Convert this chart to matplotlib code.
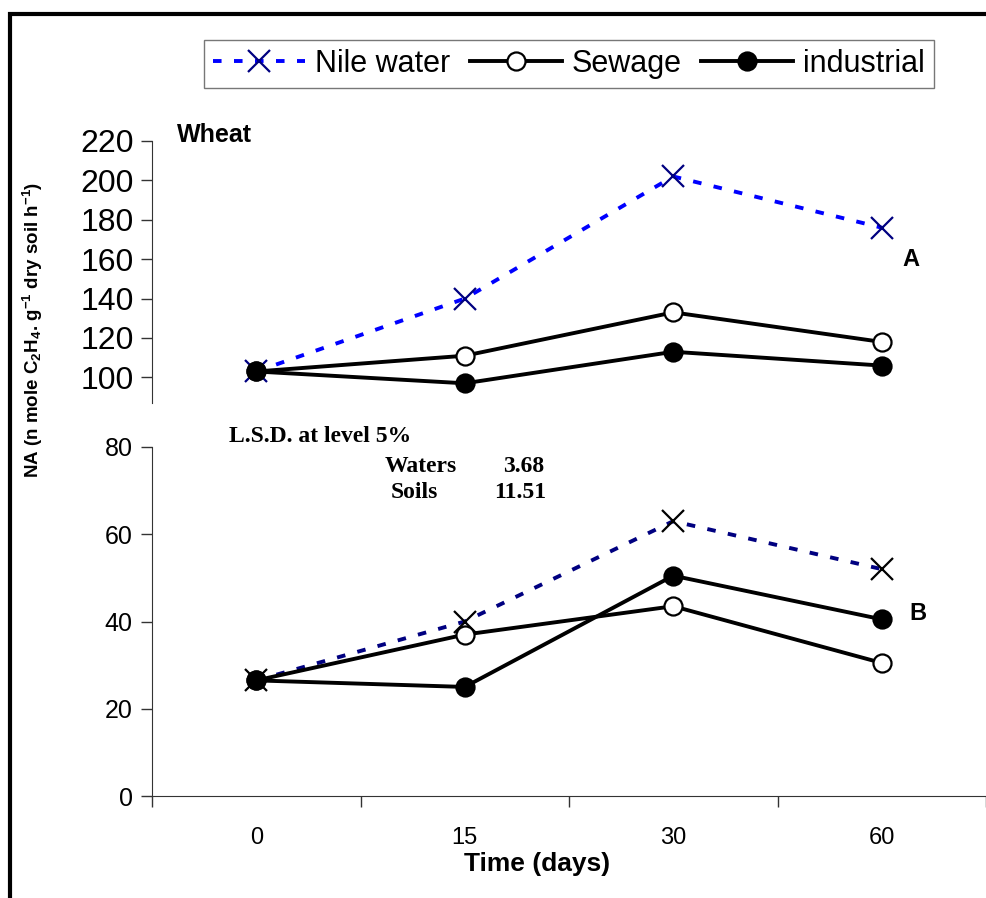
import matplotlib.pyplot as plt
import matplotlib.patches as patches
from matplotlib.lines import Line2D

plt.rcParams['font.family'] = ['Liberation Sans', 'DejaVu Sans']
plt.rcParams['mathtext.fontset'] = 'custom'
plt.rcParams['mathtext.rm'] = 'Liberation Sans:bold'
plt.rcParams['mathtext.it'] = 'Liberation Sans:bold'
plt.rcParams['mathtext.bf'] = 'Liberation Sans:bold'
plt.rcParams['mathtext.default'] = 'rm'

# Data
days = ['0', '15', '30', '60']
wheat_nile = [103, 140, 202, 176]
wheat_sewage = [103, 111, 133, 118]
wheat_industrial = [103, 97, 113, 106]

soil_nile = [26.5, 40, 63, 52]
soil_sewage = [26.5, 37, 43.5, 30.5]
soil_industrial = [26.5, 25, 50.5, 40.5]

W, H = 986, 898
fig = plt.figure(figsize=(W / 100, H / 100), dpi=100)

# outer frame
frame = patches.Rectangle((10 / W, -0.1), 1.2, (1 - 14 / H) + 0.1, transform=fig.transFigure,
                          fill=False, edgecolor='black', linewidth=3, zorder=0)
fig.patches.append(frame)

x = list(range(len(days)))
lw = 2.8
black_kw = dict(color='black', linewidth=lw, markersize=13, markeredgewidth=1.6,
                markeredgecolor='black')

# ---------------- upper panel (Wheat) ----------------
ax1 = fig.add_axes([152 / W, 1 - 403 / H, 1 - 152 / W, (403 - 141) / H])
ax1.plot(x, wheat_nile, linestyle=(0, (2.2, 3.2)), color='#0000FF', linewidth=lw,
         marker='x', markersize=16, markeredgewidth=1.6, markeredgecolor='#000080', zorder=2)
ax1.plot(x, wheat_sewage, marker='o', markerfacecolor='white', zorder=3, **black_kw)
ax1.plot(x, wheat_industrial, marker='o', markerfacecolor='black', zorder=3, **black_kw)
ax1.set_xlim(-0.5, 3.5)
ax1.set_ylim(87, 220)
ax1.set_yticks(range(100, 221, 20))
ax1.tick_params(axis='y', labelsize=23, length=8, direction='out', width=1, colors='#333333',
                labelcolor='black', pad=5)
ax1.set_xticks([])
for s in ['top', 'right', 'bottom']:
    ax1.spines[s].set_visible(False)
ax1.spines['left'].set_color('#333333')
ax1.patch.set_alpha(0)

# ---------------- lower panel ----------------
ax2 = fig.add_axes([152 / W, 1 - 796 / H, 1 - 152 / W, (796 - 447) / H])
xl = [0.5 + i for i in x]
ax2.plot(xl, soil_nile, linestyle=(0, (2.2, 3.2)), color='#000080', linewidth=lw,
         marker='x', markersize=16, markeredgewidth=1.6, markeredgecolor='black', zorder=2)
ax2.plot(xl, soil_sewage, marker='o', markerfacecolor='white', zorder=3, **black_kw)
ax2.plot(xl, soil_industrial, marker='o', markerfacecolor='black', zorder=3, **black_kw)
ax2.set_xlim(0, (986 - 152) / 210)
ax2.set_ylim(0, 80)
ax2.set_yticks(range(0, 81, 20))
ax2.set_xticks(xl)
ax2.set_xticklabels(days)
ax2.set_xticks([0, 1, 2, 3, 4], minor=True)
ax2.tick_params(axis='x', which='major', length=0, labelsize=17, pad=22)
ax2.tick_params(axis='x', which='minor', length=8, direction='out', width=1, colors='#333333')
ax2.tick_params(axis='y', labelsize=18, length=8, direction='out', width=1, colors='#333333',
                labelcolor='black', pad=6)
for s in ['top', 'right']:
    ax2.spines[s].set_visible(False)
ax2.spines['left'].set_color('#333333')
ax2.spines['bottom'].set_color('#333333')
ax2.patch.set_alpha(0)

# ---------------- texts ----------------
fig.text(537 / W, 1 - 864 / H, 'Time (days)', fontsize=19, fontweight='bold', va='center', ha='center')
fig.text(177 / W, 1 - 135 / H, 'Wheat', fontsize=18, fontweight='bold', va='center', ha='left')
fig.text(911 / W, 1 - 259 / H, 'A', fontsize=17, fontweight='bold', va='center', ha='center')
fig.text(918 / W, 1 - 613 / H, 'B', fontsize=17, fontweight='bold', va='center', ha='center')

serif = dict(family='Liberation Serif', fontweight='bold', fontsize=17, va='center')
fig.text(229 / W, 1 - 437 / H, 'L.S.D. at level 5%', ha='left', **serif)
fig.text(385 / W, 1 - 466 / H, 'Waters', ha='left', **serif)
fig.text(544 / W, 1 - 466 / H, '3.68', ha='right', **serif)
fig.text(391 / W, 1 - 493 / H, 'Soils', ha='left', **serif)
fig.text(546 / W, 1 - 493 / H, '11.51', ha='right', **serif)

fig.text(33 / W, 1 - 330 / H, r'NA (n mole C$_2$H$_4$. g$^{-1}$ dry soil h$^{-1}$)',
         rotation=90, fontsize=13.5, fontweight='bold', ha='center', va='center')

# ---------------- legend ----------------
handles = [
    Line2D([], [], linestyle=(0, (2.2, 3.2)), color='#0000FF', linewidth=lw, marker='x',
           markersize=16, markeredgewidth=1.6, markeredgecolor='#000080'),
    Line2D([], [], marker='o', markerfacecolor='white', **black_kw),
    Line2D([], [], marker='o', markerfacecolor='black', **black_kw),
]
leg = fig.legend(handles, ['Nile water', 'Sewage', 'industrial'], ncol=3, loc='center',
                 bbox_to_anchor=(569 / W, 1 - 64 / H), fontsize=22, frameon=True, fancybox=False,
                 handlelength=3.0, handletextpad=0.33, columnspacing=0.65, borderpad=0.3,
                 borderaxespad=0)
leg.get_frame().set_edgecolor('#555555')
leg.get_frame().set_linewidth(1)

fig.savefig('out.png', dpi=100)
